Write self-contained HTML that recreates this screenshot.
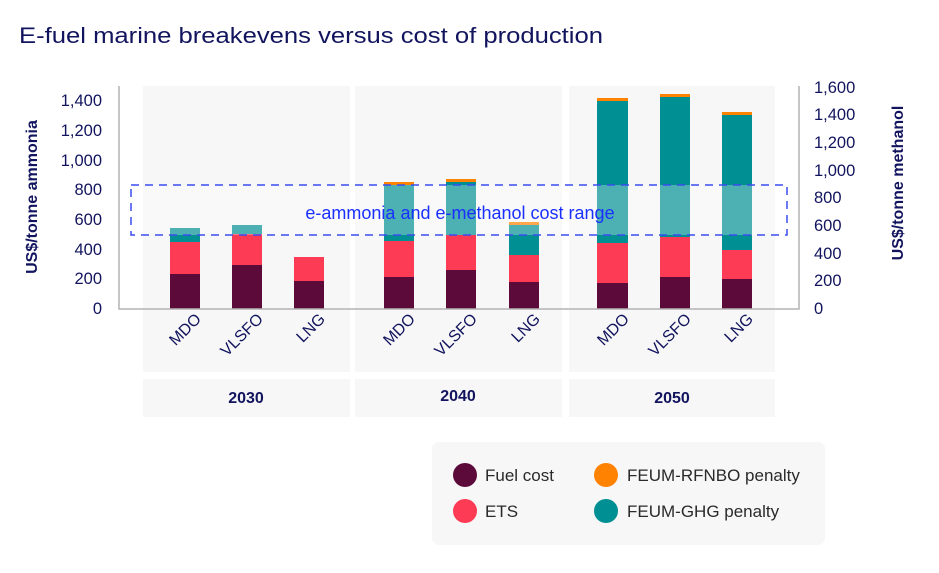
<!DOCTYPE html>
<html><head><meta charset="utf-8"><style>
body{margin:0;background:#fff;}
svg{display:block;font-family:"Liberation Sans",sans-serif;}
</style></head><body>
<svg width="939" height="573" viewBox="0 0 939 573">
<text x="19" y="43" font-size="22" fill="#12145e" textLength="584" lengthAdjust="spacingAndGlyphs">E-fuel marine breakevens versus cost of production</text>
<rect x="143" y="86" width="207" height="286" fill="#f7f7f7"/>
<rect x="355" y="86" width="207" height="286" fill="#f7f7f7"/>
<rect x="569" y="86" width="206" height="286" fill="#f7f7f7"/>
<rect x="143" y="379" width="207" height="38" fill="#f7f7f7"/>
<rect x="355" y="379" width="207" height="38" fill="#f7f7f7"/>
<rect x="569" y="379" width="206" height="38" fill="#f7f7f7"/>
<g font-size="16" font-weight="bold" fill="#12145e" text-anchor="middle">
<text x="246" y="403">2030</text><text x="458" y="401">2040</text><text x="672" y="403">2050</text>
</g>
<g>
<rect x="170" y="274" width="30" height="35" fill="#5c0a3a"/><rect x="170" y="242" width="30" height="32" fill="#fd3b54"/><rect x="170" y="228" width="30" height="14" fill="#008f92"/>
<rect x="232" y="265" width="30" height="44" fill="#5c0a3a"/><rect x="232" y="234" width="30" height="31" fill="#fd3b54"/><rect x="232" y="225" width="30" height="9" fill="#008f92"/>
<rect x="294" y="281" width="30" height="28" fill="#5c0a3a"/><rect x="294" y="257" width="30" height="24" fill="#fd3b54"/>
<rect x="384" y="277" width="30" height="32" fill="#5c0a3a"/><rect x="384" y="241" width="30" height="36" fill="#fd3b54"/><rect x="384" y="185" width="30" height="56" fill="#008f92"/><rect x="384" y="182" width="30" height="3" fill="#ff8200"/>
<rect x="446" y="270" width="30" height="39" fill="#5c0a3a"/><rect x="446" y="235" width="30" height="35" fill="#fd3b54"/><rect x="446" y="182" width="30" height="53" fill="#008f92"/><rect x="446" y="179" width="30" height="3" fill="#ff8200"/>
<rect x="509" y="282" width="30" height="27" fill="#5c0a3a"/><rect x="509" y="255" width="30" height="27" fill="#fd3b54"/><rect x="509" y="225" width="30" height="30" fill="#008f92"/><rect x="509" y="222" width="30" height="3" fill="#ff8200"/>
<rect x="597" y="283" width="31" height="26" fill="#5c0a3a"/><rect x="597" y="243" width="31" height="40" fill="#fd3b54"/><rect x="597" y="101" width="31" height="142" fill="#008f92"/><rect x="597" y="98" width="31" height="3" fill="#ff8200"/>
<rect x="660" y="277" width="30" height="32" fill="#5c0a3a"/><rect x="660" y="237" width="30" height="40" fill="#fd3b54"/><rect x="660" y="97" width="30" height="140" fill="#008f92"/><rect x="660" y="94" width="30" height="3" fill="#ff8200"/>
<rect x="722" y="279" width="30" height="30" fill="#5c0a3a"/><rect x="722" y="250" width="30" height="29" fill="#fd3b54"/><rect x="722" y="115" width="30" height="135" fill="#008f92"/><rect x="722" y="112" width="30" height="3" fill="#ff8200"/>
</g>
<rect x="131" y="185" width="656" height="50" fill="rgba(255,255,255,0.3)" stroke="#3a4ef0" stroke-width="1.5" stroke-dasharray="8,6"/>
<text x="460" y="219" font-size="18" fill="#1a30ff" text-anchor="middle">e-ammonia and e-methanol cost range</text>
<path d="M119 86 V309 H799 V86" fill="none" stroke="#b3b3b3" stroke-width="1.5"/>
<g font-size="16.5" fill="#12145e" text-anchor="end">
<text x="102" y="106">1,400</text><text x="102" y="136">1,200</text><text x="102" y="166">1,000</text><text x="102" y="195">800</text><text x="102" y="225">600</text><text x="102" y="255">400</text><text x="102" y="284">200</text><text x="102" y="314">0</text>
</g>
<g font-size="16.5" fill="#12145e" text-anchor="start">
<text x="814" y="93">1,600</text><text x="814" y="120">1,400</text><text x="814" y="148">1,200</text><text x="814" y="176">1,000</text><text x="814" y="203">800</text><text x="814" y="231">600</text><text x="814" y="259">400</text><text x="814" y="286">200</text><text x="814" y="314">0</text>
</g>
<text transform="translate(37,197) rotate(-90)" font-size="16" font-weight="bold" fill="#12145e" text-anchor="middle">US$/tonne ammonia</text>
<text transform="translate(903,183) rotate(-90)" font-size="16" font-weight="bold" fill="#12145e" text-anchor="middle">US$/tonne methanol</text>
<g font-size="16" fill="#12145e" text-anchor="end">
<text transform="translate(202,320) rotate(-45)">MDO</text>
<text transform="translate(264,320) rotate(-45)">VLSFO</text>
<text transform="translate(326,320) rotate(-45)">LNG</text>
<text transform="translate(416,320) rotate(-45)">MDO</text>
<text transform="translate(478,320) rotate(-45)">VLSFO</text>
<text transform="translate(541,320) rotate(-45)">LNG</text>
<text transform="translate(630,320) rotate(-45)">MDO</text>
<text transform="translate(692,320) rotate(-45)">VLSFO</text>
<text transform="translate(754,320) rotate(-45)">LNG</text>
</g>
<rect x="432" y="442" width="393" height="103" rx="7" fill="#f7f7f7"/>
<circle cx="465" cy="475" r="12" fill="#5c0a3a"/>
<circle cx="465" cy="511" r="12" fill="#fd3b54"/>
<circle cx="606" cy="475" r="12" fill="#ff8200"/>
<circle cx="606" cy="511" r="12" fill="#008f92"/>
<g font-size="17" fill="#2a2a2a">
<text x="485" y="481">Fuel cost</text><text x="485" y="517">ETS</text>
<text x="627" y="481">FEUM-RFNBO penalty</text><text x="627" y="517">FEUM-GHG penalty</text>
</g>
</svg>
</body></html>
